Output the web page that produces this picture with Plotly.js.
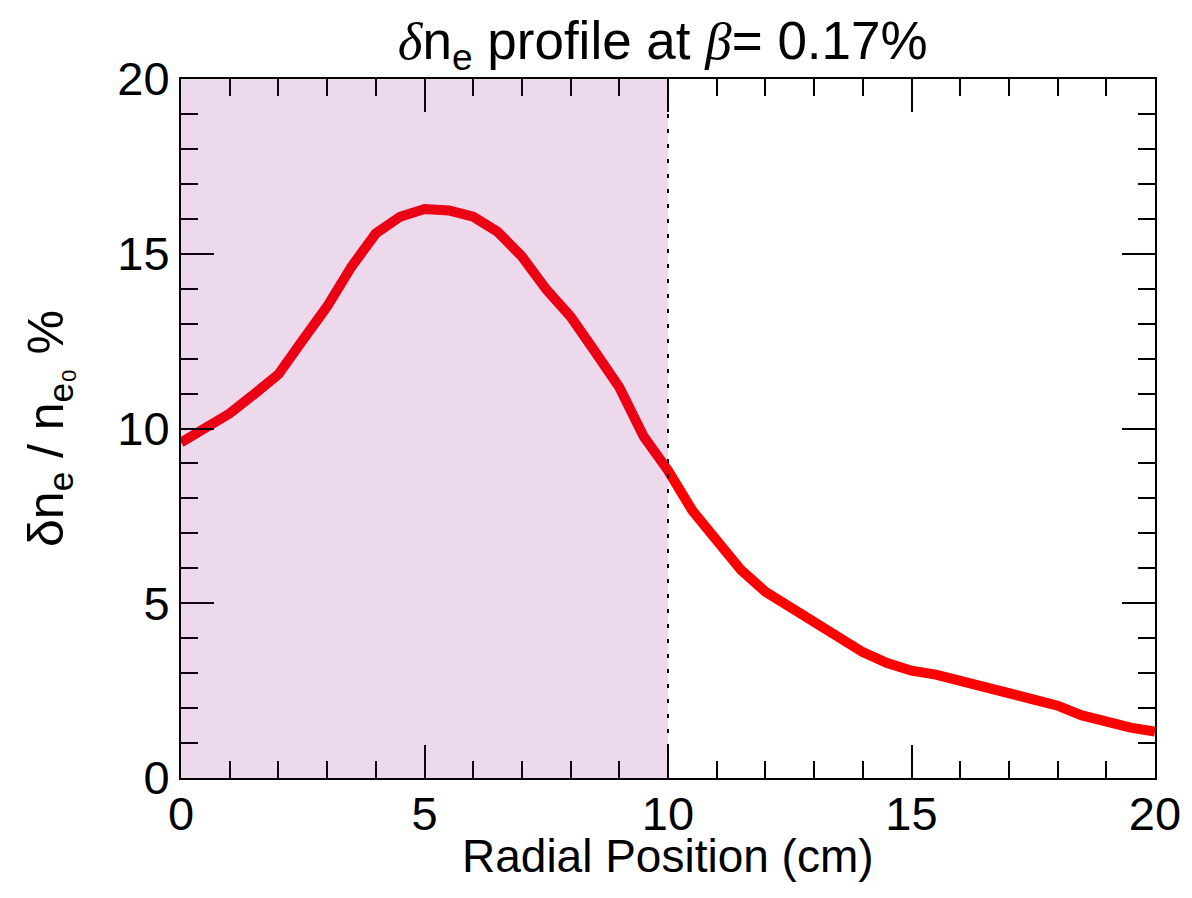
<!DOCTYPE html>
<html>
<head>
<meta charset="utf-8">
<script src="https://cdn.plot.ly/plotly-3.0.1.min.js"></script>
<style>html,body{margin:0;padding:0;background:#fff;}#chart{width:1192px;height:898px;}</style>
</head>
<body>
<div id="chart"></div>
<script>
const radialPosition = [0, 0.5, 1, 1.5, 2, 2.5, 3, 3.5, 4, 4.5, 5, 5.5, 6, 6.5, 7, 7.5, 8, 8.5, 9, 9.5, 10,
  10.5, 11, 11.5, 12, 12.5, 13, 13.5, 14, 14.5, 15, 15.5, 16, 16.5, 17, 17.5, 18, 18.5, 19, 19.5, 20];
const densityFluct = [9.6, 10.01, 10.43, 10.98, 11.55, 12.53, 13.49, 14.63, 15.58, 16.06, 16.28, 16.24, 16.06, 15.63, 14.92, 13.98, 13.2, 12.2, 11.18, 9.77, 8.8,
  7.65, 6.78, 5.95, 5.33, 4.9, 4.45, 4.06, 3.6, 3.29, 3.07, 2.96, 2.78, 2.63, 2.45, 2.28, 2.07, 1.79, 1.58, 1.44, 1.33];
const shadedRange = [0, 10];
const xTicks = [0, 5, 10, 15, 20];
const yTicks = [0, 5, 10, 15, 20];
const xTitle = 'Radial Position (cm)';

const FONT = 'Liberation Sans, Arial, Helvetica, sans-serif';
const MATH = "<span style=\"font-family:'Liberation Serif', 'DejaVu Serif', serif\"><i>";

const trace = {
  x: radialPosition,
  y: densityFluct,
  type: 'scatter',
  mode: 'lines',
  line: {color: '#ff0000', width: 10},
  hoverinfo: 'x+y'
};

const axisCommon = {
  showgrid: false,
  zeroline: false,
  showline: true,
  linecolor: '#000',
  linewidth: 2,
  mirror: 'allticks',
  ticks: 'inside',
  ticklen: 33,
  tickwidth: 2,
  tickcolor: '#000',
  tickfont: {family: FONT, size: 47, color: '#000'},
  minor: {ticks: 'inside', ticklen: 17, tickwidth: 2, tickcolor: '#000', dtick: 1, showgrid: false}
};

const layout = {
  width: 1192,
  height: 898,
  margin: {l: 181, r: 37, t: 79, b: 120, pad: 0},
  paper_bgcolor: '#fff',
  plot_bgcolor: '#fff',
  showlegend: false,
  font: {family: FONT, color: '#000'},
  title: {
    text: MATH + 'δ</i></span>n<sub>e</sub> profile at ' + MATH + 'β</i></span>= 0.17%',
    font: {family: FONT, size: 53, color: '#000'},
    x: 0.556, xanchor: 'center', y: 0.955, yanchor: 'middle'
  },
  xaxis: Object.assign({}, axisCommon, {
    range: [0, 20],
    tickvals: xTicks,
    ticktext: xTicks.map(String),
    ticklabelstandoff: -6
  }),
  yaxis: Object.assign({}, axisCommon, {
    range: [0, 20],
    tickvals: yTicks,
    ticktext: yTicks.map(String),
    title: {text: 'δn<sub>e</sub> / n<sub>e₀</sub> %', font: {family: FONT, size: 50, color: '#000'}, standoff: 38}
  }),
  annotations: [
    {
      text: xTitle, xref: 'paper', yref: 'paper', x: 0.5, y: -0.072,
      xanchor: 'center', yanchor: 'top', showarrow: false,
      font: {family: FONT, size: 46, color: '#000'}
    }
  ],
  shapes: [
    {
      type: 'rect', xref: 'x', yref: 'y',
      x0: shadedRange[0], x1: shadedRange[1], y0: 0, y1: 20,
      fillcolor: 'rgba(128,0,128,0.15)', line: {width: 0}, layer: 'above'
    },
    {
      type: 'line', xref: 'x', yref: 'y',
      x0: shadedRange[1], x1: shadedRange[1], y0: 0, y1: 20,
      line: {color: '#000', width: 2, dash: '4px,11px'}, layer: 'above'
    }
  ]
};

Plotly.newPlot('chart', [trace], layout, {displayModeBar: false, staticPlot: true});
</script>
</body>
</html>
